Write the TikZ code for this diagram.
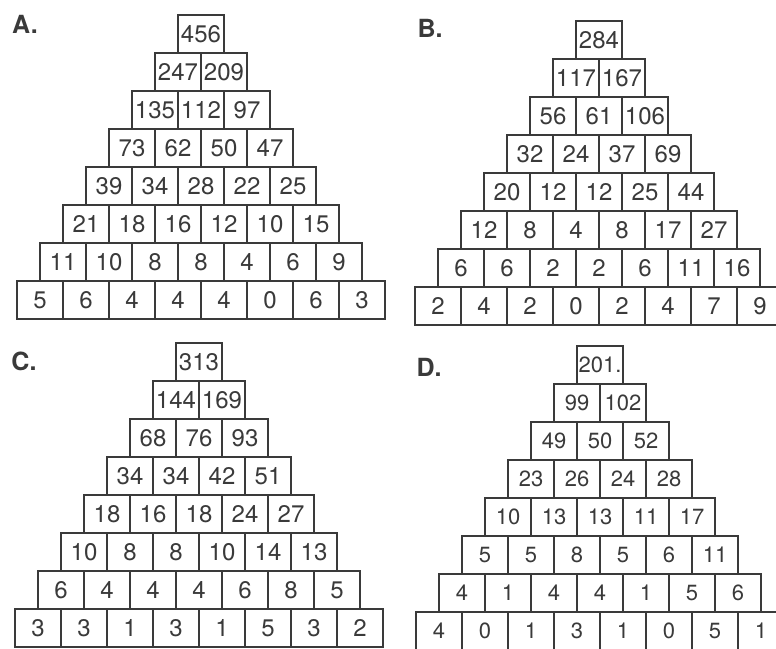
\documentclass[tikz,border=0pt]{standalone}
\usepackage{fontspec}
\setsansfont{TeX Gyre Heros}
\usepackage{xcolor}
\usepackage{tikz}

\definecolor{ink}{HTML}{3A3A3A}

% one pyramid: name, centre x, top y, cell style, rows as row/{values}
\newcommand{\numpyramid}[5]{%
  \foreach \row/\vals in {#5} {
    \foreach \v [count=\c from 0] in \vals {
      \node[#4] (#1-\row-\c) at ({#2-\row*23+\c*46}, {#3+\row*38+19}) {\v};
    }
  }%
}

\begin{document}
\begin{tikzpicture}[x=1pt, y=-1pt, cell/.style={draw=ink, line width=1.3pt, text=ink, minimum width=46pt, minimum height=38pt, inner sep=0pt, font=\sffamily\fontsize{24}{24}\selectfont}, smallcell/.style={cell, font=\sffamily\fontsize{22}{22}\selectfont}, tag/.style={text=ink, font=\sffamily\bfseries\fontsize{25}{25}\selectfont}]
\useasboundingbox (0,0) rectangle (776,648);
\fill[white] (0,0) rectangle (776,648);
\clip (0,0) rectangle (776,648);
\node[tag] (labA) at (25,24) {A.};
\node[tag] (labB) at (430,28) {B.};
\node[tag] (labC) at (24,361) {C.};
\node[tag] (labD) at (429,367) {D.};
\numpyramid{A}{201}{15}{cell}{0/{456}, 1/{247,209}, 2/{135,112,97}, 3/{73,62,50,47}, 4/{39,34,28,22,25}, 5/{21,18,16,12,10,15}, 6/{11,10,8,8,4,6,9}, 7/{5,6,4,4,4,0,6,3}}
\numpyramid{B}{599}{21}{cell}{0/{284}, 1/{117,167}, 2/{56,61,106}, 3/{32,24,37,69}, 4/{20,12,12,25,44}, 5/{12,8,4,8,17,27}, 6/{6,6,2,2,6,11,16}, 7/{2,4,2,0,2,4,7,9}}
\numpyramid{C}{199}{343}{cell}{0/{313}, 1/{144,169}, 2/{68,76,93}, 3/{34,34,42,51}, 4/{18,16,18,24,27}, 5/{10,8,8,10,14,13}, 6/{6,4,4,4,6,8,5}, 7/{3,3,1,3,1,5,3,2}}
\numpyramid{D}{600}{346}{smallcell}{0/{201.}, 1/{99,102}, 2/{49,50,52}, 3/{23,26,24,28}, 4/{10,13,13,11,17}, 5/{5,5,8,5,6,11}, 6/{4,1,4,4,1,5,6}, 7/{4,0,1,3,1,0,5,1}}
\end{tikzpicture}
\end{document}
